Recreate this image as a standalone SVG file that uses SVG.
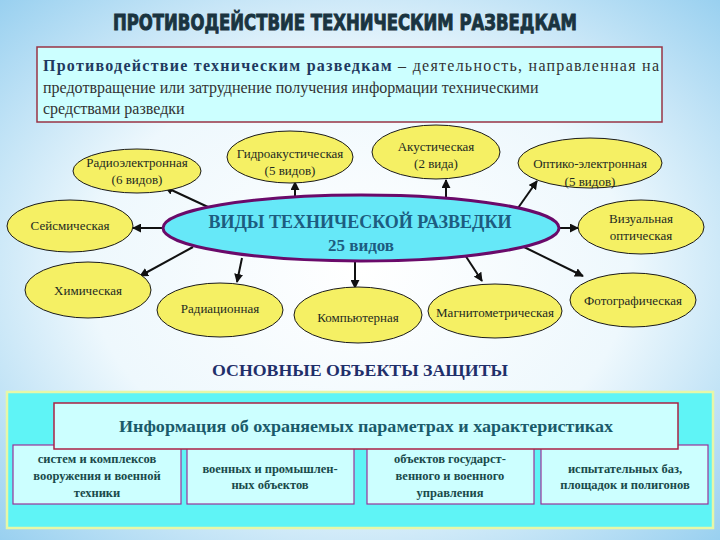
<svg xmlns="http://www.w3.org/2000/svg" width="720" height="540" viewBox="0 0 720 540">
<defs>
<radialGradient id="bg" cx="50%" cy="50%" r="75%">
<stop offset="0" stop-color="#ffffff"/>
<stop offset="0.5" stop-color="#eef8fd"/>
<stop offset="1" stop-color="#8ecbee"/>
</radialGradient>
<marker id="ah" viewBox="0 0 10 10" refX="9" refY="5" markerWidth="4.5" markerHeight="4.5" orient="auto-start-reverse">
<path d="M0,0 L10,5 L0,10 z" fill="#111"/>
</marker>
<style>
.y{fill:#f5f064;stroke:#1a1a1a;stroke-width:1}
.lt{font-family:"Liberation Serif","DejaVu Serif",serif;font-size:13px;fill:#1e2a22;text-anchor:middle}
.box{fill:#ccffff;stroke:#993399;stroke-width:1.2}
.bt{font-family:"Liberation Serif","DejaVu Serif",serif;font-size:12.5px;font-weight:bold;fill:#1a4a4a;text-anchor:middle}
.con line{stroke:#111;stroke-width:2;marker-end:url(#ah)}
</style>
</defs>
<rect width="720" height="540" fill="url(#bg)"/>

<g id="title">
<text x="345" y="30" font-family="'DejaVu Sans Condensed','DejaVu Sans',sans-serif" font-weight="bold" font-size="22" fill="#1a3440" stroke="#1a3440" stroke-width="0.9" text-anchor="middle" textLength="464" lengthAdjust="spacingAndGlyphs">ПРОТИВОДЕЙСТВИЕ ТЕХНИЧЕСКИМ РАЗВЕДКАМ</text>
</g>

<g id="definition">
<rect x="37" y="47" width="625" height="75" fill="#ccffff" stroke="#993344" stroke-width="1.5"/>
<text x="43" y="71" font-family="'Liberation Serif',serif" font-size="16" fill="#333" textLength="616" lengthAdjust="spacing"><tspan font-weight="bold" fill="#1f3a60">Противодействие техническим разведкам</tspan> – деятельность, направленная на</text>
<text x="43" y="93" font-family="'Liberation Serif',serif" font-size="16" fill="#333">предотвращение или затруднение получения информации техническими</text>
<text x="43" y="114" font-family="'Liberation Serif',serif" font-size="16" fill="#333">средствами разведки</text>
</g>

<g class="con" id="connectors">
<line x1="208" y1="207" x2="165" y2="187"/>
<line x1="295" y1="198" x2="295" y2="182"/>
<line x1="446" y1="198" x2="446" y2="180"/>
<line x1="518" y1="208" x2="537" y2="181"/>
<line x1="560" y1="228" x2="578" y2="228"/>
<line x1="524" y1="247" x2="583" y2="276"/>
<line x1="465" y1="255" x2="482" y2="281"/>
<line x1="355" y1="260" x2="355" y2="288"/>
<line x1="242" y1="258" x2="237" y2="282"/>
<line x1="193" y1="247" x2="140" y2="276"/>
<line x1="163" y1="228" x2="133" y2="228"/>
</g>

<g id="center">
<ellipse cx="361" cy="228" rx="198" ry="33" fill="#66e8f8" stroke="#6a0a6a" stroke-width="3"/>
<text x="360" y="228" font-family="'Liberation Serif',serif" font-weight="bold" font-size="18" fill="#1d5c80" text-anchor="middle">ВИДЫ ТЕХНИЧЕСКОЙ РАЗВЕДКИ</text>
<text x="361" y="251" font-family="'Liberation Serif',serif" font-weight="bold" font-size="17" fill="#1d5c80" text-anchor="middle">25 видов</text>
</g>

<g id="radio"><ellipse class="y" cx="137" cy="171" rx="64" ry="22"/><text class="lt" x="137" y="167">Радиоэлектронная</text><text class="lt" x="137" y="184">(6 видов)</text></g>
<g id="hydro"><ellipse class="y" cx="290" cy="157" rx="63" ry="26"/><text class="lt" x="290" y="158">Гидроакустическая</text><text class="lt" x="290" y="175">(5 видов)</text></g>
<g id="acoustic"><ellipse class="y" cx="436" cy="152" rx="64" ry="27"/><text class="lt" x="436" y="151">Акустическая</text><text class="lt" x="436" y="168">(2 вида)</text></g>
<g id="optoel"><ellipse class="y" cx="590" cy="163" rx="72" ry="25"/><text class="lt" x="590" y="168">Оптико-электронная</text><text class="lt" x="590" y="186">(5 видов)</text></g>
<g id="visual"><ellipse class="y" cx="641" cy="227" rx="63" ry="27"/><text class="lt" x="641" y="223">Визуальная</text><text class="lt" x="641" y="240">оптическая</text></g>
<g id="photo"><ellipse class="y" cx="633" cy="300" rx="63" ry="27"/><text class="lt" x="633" y="305">Фотографическая</text></g>
<g id="magnet"><ellipse class="y" cx="495" cy="311" rx="67" ry="27"/><text class="lt" x="495" y="317">Магнитометрическая</text></g>
<g id="computer"><ellipse class="y" cx="358" cy="315" rx="64" ry="28"/><text class="lt" x="358" y="322">Компьютерная</text></g>
<g id="radiation"><ellipse class="y" cx="220" cy="310" rx="63" ry="27"/><text class="lt" x="220" y="313">Радиационная</text></g>
<g id="chemical"><ellipse class="y" cx="88" cy="290" rx="63" ry="28"/><text class="lt" x="88" y="295">Химическая</text></g>
<g id="seismic"><ellipse class="y" cx="70" cy="226" rx="63" ry="26"/><text class="lt" x="70" y="230">Сейсмическая</text></g>

<g id="objects-title">
<text x="360" y="376" font-family="'Liberation Serif',serif" font-weight="bold" font-size="16" fill="#1f2f6a" text-anchor="middle" textLength="296" lengthAdjust="spacingAndGlyphs">ОСНОВНЫЕ ОБЪЕКТЫ ЗАЩИТЫ</text>
</g>

<g id="panel">
<rect x="7" y="392" width="706" height="136" fill="#5ff4f6" stroke="#e6f7a8" stroke-width="2.5"/>
</g>

<g id="b1"><rect class="box" x="13" y="445" width="168" height="59"/><text class="bt" x="97" y="463">систем и комплексов</text><text class="bt" x="97" y="480">вооружения и военной</text><text class="bt" x="97" y="497">техники</text></g>
<g id="b2"><rect class="box" x="187" y="445" width="167" height="59"/><text class="bt" x="270" y="473">военных и промышлен-</text><text class="bt" x="270" y="489">ных объектов</text></g>
<g id="b3"><rect class="box" x="367" y="445" width="167" height="59"/><text class="bt" x="450" y="463">объектов государст-</text><text class="bt" x="450" y="480">венного и военного</text><text class="bt" x="450" y="497">управления</text></g>
<g id="b4"><rect class="box" x="541" y="445" width="167" height="59"/><text class="bt" x="625" y="473">испытательных баз,</text><text class="bt" x="625" y="489">площадок и полигонов</text></g>

<g id="info">
<rect x="54" y="403" width="624" height="46" fill="#ccffff" stroke="#aa2244" stroke-width="1.5"/>
<text x="366" y="432" font-family="'Liberation Serif',serif" font-weight="bold" font-size="16" fill="#1a5a6a" text-anchor="middle" textLength="494" lengthAdjust="spacingAndGlyphs">Информация об охраняемых параметрах и характеристиках</text>
</g>
</svg>
